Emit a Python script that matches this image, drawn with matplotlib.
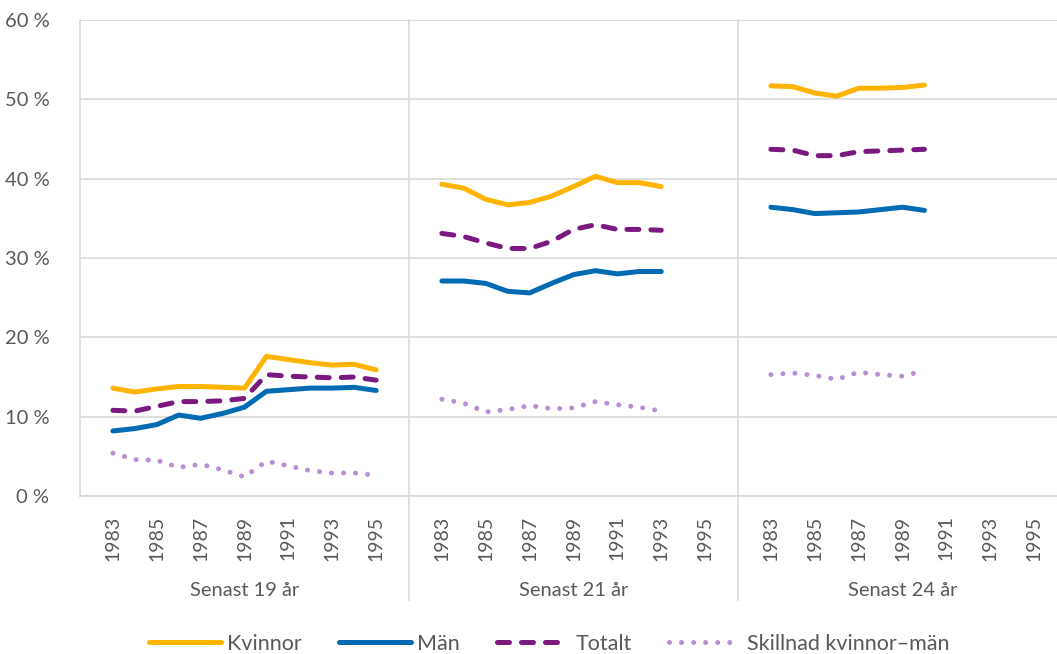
import matplotlib
matplotlib.use('Agg')
import matplotlib.pyplot as plt
import matplotlib.transforms as mtransforms
import numpy as np

plt.rcParams['font.family'] = ['Lato', 'DejaVu Sans']

# Kategorier: tre grupper, varje med årsplatser 1982-1996
grupper = ['Senast 19 år', 'Senast 21 år', 'Senast 24 år']
platser = list(range(1982, 1997))
etikett_ar = [1983, 1985, 1987, 1989, 1991, 1993, 1995]

# Senast 19 år (1983-1995)
ar_19 = list(range(1983, 1996))
kvinnor_19 = [13.6, 13.1, 13.5, 13.8, 13.8, 13.7, 13.6, 17.6, 17.2, 16.8, 16.5, 16.6, 15.9]
man_19 = [8.2, 8.5, 9.0, 10.2, 9.8, 10.4, 11.2, 13.2, 13.4, 13.6, 13.6, 13.7, 13.3]
totalt_19 = [10.8, 10.7, 11.3, 11.9, 11.9, 12.0, 12.3, 15.3, 15.1, 15.0, 14.9, 15.0, 14.6]
skillnad_19 = [5.4, 4.6, 4.5, 3.6, 4.0, 3.3, 2.4, 4.4, 3.8, 3.2, 2.9, 2.9, 2.6]

# Senast 21 år (1983-1993)
ar_21 = list(range(1983, 1994))
kvinnor_21 = [39.3, 38.8, 37.4, 36.7, 37.0, 37.8, 39.0, 40.3, 39.5, 39.5, 39.0]
man_21 = [27.1, 27.1, 26.8, 25.8, 25.6, 26.8, 27.9, 28.4, 28.0, 28.3, 28.3]
totalt_21 = [33.1, 32.7, 31.9, 31.2, 31.2, 32.1, 33.6, 34.2, 33.6, 33.6, 33.5]
skillnad_21 = [12.2, 11.7, 10.6, 10.9, 11.4, 11.0, 11.1, 11.9, 11.5, 11.2, 10.7]

# Senast 24 år (1983-1990)
ar_24 = list(range(1983, 1991))
kvinnor_24 = [51.7, 51.6, 50.8, 50.4, 51.4, 51.4, 51.5, 51.8]
man_24 = [36.4, 36.1, 35.6, 35.7, 35.8, 36.1, 36.4, 36.0]
totalt_24 = [43.7, 43.6, 42.9, 42.9, 43.4, 43.5, 43.6, 43.7]
skillnad_24 = [15.3, 15.5, 15.2, 14.7, 15.6, 15.3, 15.1, 15.8]

serier = ['Kvinnor', 'Män', 'Totalt', 'Skillnad kvinnor\u2013män']
data = [
    (ar_19, [kvinnor_19, man_19, totalt_19, skillnad_19]),
    (ar_21, [kvinnor_21, man_21, totalt_21, skillnad_21]),
    (ar_24, [kvinnor_24, man_24, totalt_24, skillnad_24]),
]

farger = ['#FFB400', '#006AB3', '#7A1A80', '#B88FD5']
lw = 3.6
stilar = ['-', '-', (0, (2.4, 2.4)), (0, (0.01, 2.4))]

W, H = 1057, 654
fig = plt.figure(figsize=(W / 100, H / 100), dpi=100)
n = len(platser)
grupp_px = 329
ax = fig.add_axes([80 / W, 1 - 496 / H, 3 * grupp_px / W, 476 / H])
ax.set_xlim(0, 3 * n)
ax.set_ylim(0, 60)

# rutnät
ax.set_yticks(range(0, 61, 10))
ax.set_yticklabels(['{} %'.format(v) for v in range(0, 61, 10)])
ax.grid(axis='y', color='#D9D9D9', linewidth=1.2)
ax.set_axisbelow(True)
for s in ['top', 'right']:
    ax.spines[s].set_visible(False)
for s in ['left', 'bottom']:
    ax.spines[s].set_color('#D9D9D9')
    ax.spines[s].set_linewidth(1.2)

handtag = []
for g, (ar, varden) in enumerate(data):
    x = [g * n + platser.index(a) + 0.5 for a in ar]
    for i, v in enumerate(varden):
        l, = ax.plot(x, v, color=farger[i], linewidth=lw, linestyle=stilar[i],
                     solid_capstyle='round', dash_capstyle='round',
                     solid_joinstyle='round', label=serier[i])
        if g == 0:
            handtag.append(l)

# x-etiketter
tick_pos = []
tick_lab = []
for g in range(3):
    for a in etikett_ar:
        tick_pos.append(g * n + platser.index(a) + 0.5)
        tick_lab.append(str(a))
ax.set_xticks(tick_pos)
ax.set_xticklabels(tick_lab, rotation=90)
ax.tick_params(axis='x', length=0, pad=14, labelsize=14, labelcolor='#595959')
ax.tick_params(axis='y', length=0, pad=22, labelsize=14.5, labelcolor='#595959')

trans = mtransforms.blended_transform_factory(ax.transData, ax.transAxes)
for g in range(1, 3):
    ax.plot([g * n, g * n], [1, -(600 - 496) / 476], transform=trans, color='#D9D9D9',
            linewidth=1.2, clip_on=False)
for g, namn in enumerate(grupper):
    ax.text(g * n + n / 2, -(591 - 496) / 476, namn, transform=trans, ha='center',
            va='center', fontsize=14.5, color='#595959')

fig.legend(handles=handtag, loc='center', bbox_to_anchor=(549 / W, 1 - 644 / H), ncol=4,
           frameon=False, fontsize=15.5, handlelength=3.34, handletextpad=0.3,
           columnspacing=1.72, labelcolor='#595959', borderpad=0, borderaxespad=0)

fig.savefig('out.png', dpi=100)
